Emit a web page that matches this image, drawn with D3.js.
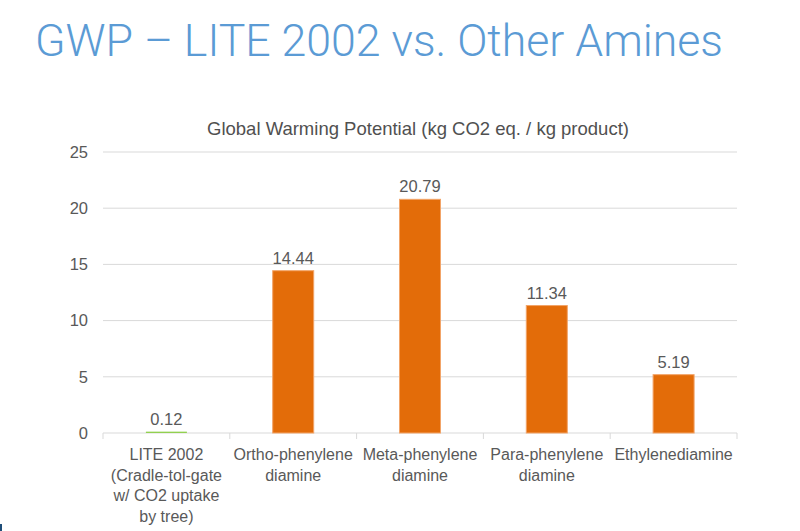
<!DOCTYPE html>
<html><head><meta charset="utf-8">
<script src="https://cdn.jsdelivr.net/npm/d3@7"></script>
<style>
html,body{margin:0;padding:0;background:#fff;}
svg{display:block;}
</style></head>
<body><svg id="c" width="800" height="531"></svg>
<script>
const categories = [
  ["LITE 2002","(Cradle-tol-gate","w/ CO2 uptake","by tree)"],
  ["Ortho-phenylene","diamine"],
  ["Meta-phenylene","diamine"],
  ["Para-phenylene","diamine"],
  ["Ethylenediamine"]
];
const values = [0.12, 14.44, 20.79, 11.34, 5.19];
const valueLabels = ["0.12","14.44","20.79","11.34","5.19"];
const yTicks = [0, 5, 10, 15, 20, 25];
const barColors = ["#92d050","#e36c09","#e36c09","#e36c09","#e36c09"];
const slideTitle = "GWP – LITE 2002 vs. Other Amines";
const chartTitle = "Global Warming Potential (kg CO2 eq. / kg product)";

(function(){
const svg = d3.select("#c");
const pL = 103, pR = 737, pT = 152, pB = 433;
const x = d3.scaleBand().domain(d3.range(categories.length)).range([pL, pR]).paddingInner(0).paddingOuter(0);
const y = d3.scaleLinear().domain([0, 25]).range([pB, pT]);
const barW = 41;

// slide decoration
svg.append("rect").attr("x",0).attr("y",524).attr("width",2).attr("height",7).attr("fill","#1f4e79");

svg.append("text").attr("x",35).attr("y",56)
  .attr("font-family","Roboto, 'Liberation Sans', sans-serif").attr("font-weight",300)
  .attr("font-size",45).attr("fill","#5b9bd5")
  .attr("textLength",688).attr("lengthAdjust","spacingAndGlyphs").text(slideTitle);

svg.append("text").attr("x",418).attr("y",135).attr("text-anchor","middle")
  .attr("font-family","'Liberation Sans', Arial, sans-serif").attr("font-size",18.5)
  .attr("fill","#505050").text(chartTitle);

// gridlines
svg.append("g").selectAll("line").data(yTicks.filter(d=>d>0)).join("line")
  .attr("x1",pL).attr("x2",pR).attr("y1",d=>y(d)).attr("y2",d=>y(d))
  .attr("stroke","#d9d9d9").attr("stroke-width",1);

// y axis labels
const yAxis = d3.axisLeft(y).tickValues(yTicks).tickSize(0).tickPadding(15);
const ya = svg.append("g").attr("transform",`translate(${pL},0)`).call(yAxis);
ya.select(".domain").remove();
ya.selectAll("text").attr("font-family","'Liberation Sans', Arial, sans-serif")
  .attr("font-size",16.5).attr("fill","#595959");

// x axis
const xa = svg.append("g").attr("transform",`translate(0,${pB})`);
xa.append("line").attr("x1",pL).attr("x2",pR).attr("y1",0).attr("y2",0).attr("stroke","#d9d9d9");
const bounds = d3.range(categories.length+1).map(i => i < categories.length ? x(i) : x(i-1)+x.bandwidth());
xa.selectAll("line.tk").data(bounds).join("line").attr("class","tk")
  .attr("x1",d=>d).attr("x2",d=>d).attr("y1",0).attr("y2",6).attr("stroke","#d9d9d9");

// bars
svg.append("g").selectAll("rect").data(values).join("rect")
  .attr("x",(d,i)=>x(i)+x.bandwidth()/2-barW/2).attr("width",barW)
  .attr("y",d=>y(d)).attr("height",d=>pB-y(d))
  .attr("fill",(d,i)=>barColors[i])
  .attr("stroke",(d,i)=> i===0 ? "none" : "#f2a468").attr("stroke-width",1);

// value labels
svg.append("g").selectAll("text").data(values).join("text")
  .attr("x",(d,i)=>x(i)+x.bandwidth()/2).attr("y",d=>y(d)-7)
  .attr("text-anchor","middle").attr("font-family","'Liberation Sans', Arial, sans-serif")
  .attr("font-size",16.5).attr("fill","#595959").text((d,i)=>valueLabels[i]);

// category labels
const cl = svg.append("g").selectAll("text").data(categories).join("text")
  .attr("x",(d,i)=>x(i)+x.bandwidth()/2).attr("y",460)
  .attr("text-anchor","middle").attr("font-family","'Liberation Sans', Arial, sans-serif")
  .attr("font-size",16).attr("fill","#595959");
cl.selectAll("tspan").data(d=>d).join("tspan")
  .attr("x",function(){return this.parentNode.getAttribute("x");})
  .attr("dy",(d,j)=> j===0 ? 0 : 20.7).text(d=>d);
})();
</script></body></html>
